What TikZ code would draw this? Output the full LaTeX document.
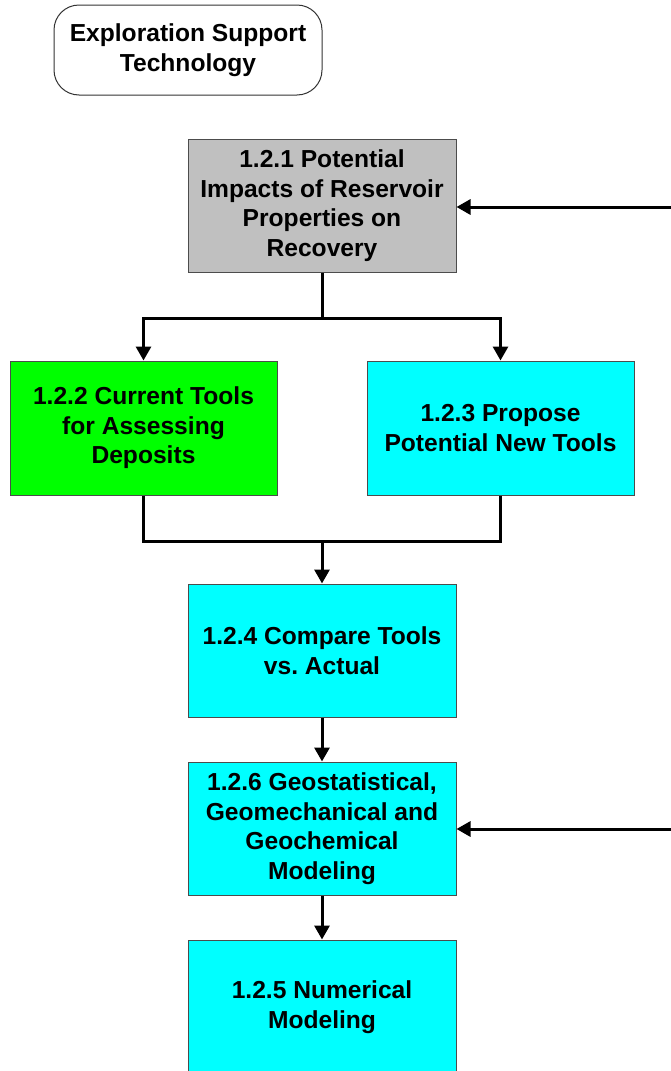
\documentclass[tikz,border=0pt]{standalone}
\usepackage{fontspec}
\setmainfont{Liberation Sans}
\usetikzlibrary{arrows.meta}
\definecolor{boxgray}{HTML}{C0C0C0}
\definecolor{boxgreen}{HTML}{00FF00}
\definecolor{boxcyan}{HTML}{00FFFF}
\begin{document}
\begin{tikzpicture}[x=1pt,y=-1pt,
  every node/.style={font=\bfseries\fontsize{24.6}{29.5}\selectfont, align=center, inner sep=0pt},
  stepbox/.style={draw=black!70, line width=1pt, minimum width=268pt, minimum height=133pt},
  titlebox/.style={draw=black!80, line width=1pt, rounded corners=25pt, minimum width=268pt, minimum height=90pt},
  link/.style={line width=3pt},
  flow/.style={line width=3pt, -{Triangle[width=15pt,length=14pt]}}]
\useasboundingbox (0,0) rectangle (670,1071);

% title
\node[titlebox] (exp) at (188,50) {Exploration Support\\Technology};

% process boxes
\node[stepbox, fill=boxgray]  (b121) at (322,205.5) {1.2.1 Potential\\Impacts of Reservoir\\Properties on\\Recovery};
\node[stepbox, fill=boxgreen, minimum width=267pt, minimum height=134pt] (b122) at (143.5,428) {1.2.2 Current Tools\\for Assessing\\Deposits};
\node[stepbox, fill=boxcyan, minimum width=267pt, minimum height=134pt]  (b123) at (500.5,428) {1.2.3 Propose\\Potential New Tools};
\node[stepbox, fill=boxcyan]  (b124) at (322,650.5) {1.2.4 Compare Tools\\vs.\ Actual};
\node[stepbox, fill=boxcyan]  (b126) at (322,828.5) {1.2.6 Geostatistical,\\Geomechanical and\\Geochemical\\Modeling};
\node[stepbox, fill=boxcyan, minimum height=134pt]  (b125) at (322,1007) {1.2.5 Numerical\\Modeling};

% branch from 1.2.1
\coordinate (split) at (322,318);
\draw[link] (b121.south) -- (split);
\draw[flow] (split) -| (b122.north);
\draw[flow] (split) -| (b123.north);

% merge into 1.2.4
\coordinate (merge) at (322,541);
\draw[link] (b122.south) |- (merge);
\draw[link] (b123.south) |- (merge);
\draw[flow] (merge) -- (b124.north);

% main chain
\draw[flow] (b124.south) -- (b126.north);
\draw[flow] (b126.south) -- (b125.north);

% inputs from the right
\coordinate (in1) at (674,207);
\coordinate (in2) at (674,829);
\draw[flow] (in1) -- (b121.east |- in1);
\draw[flow] (in2) -- (b126.east |- in2);
\end{tikzpicture}
\end{document}
